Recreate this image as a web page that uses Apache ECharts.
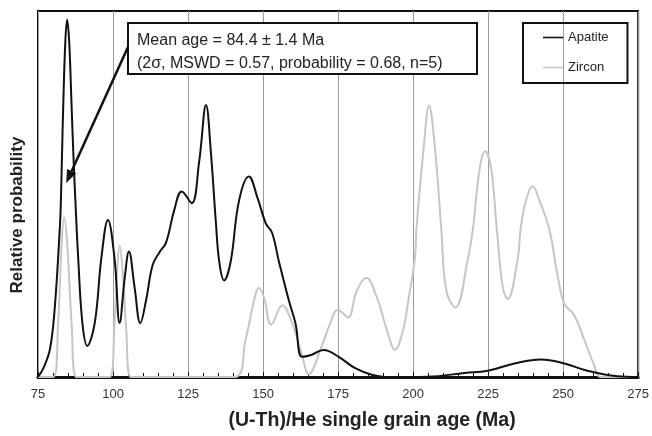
<!DOCTYPE html>
<html>
<head>
<meta charset="utf-8">
<script src="https://cdn.jsdelivr.net/npm/echarts@6/dist/echarts.min.js"></script>
<style>
  html, body { margin: 0; padding: 0; background: #fff; }
  #chart { width: 652px; height: 436px; }
</style>
</head>
<body>
<div id="chart"></div>
<script>
// age (Ma) / relative probability (0-100)
const apatiteAge = [75, 76.8, 79, 80.6, 82.3, 82.6, 83, 83.4, 84.1, 84.7, 85.4, 86.2, 86.8, 87.5, 88.4, 89.8, 91.4, 93.9, 96.1, 98.3, 100.5, 102.2, 103.9, 105.3, 107.2, 109.1, 111, 113.2, 115.5, 117.7, 120.4, 122.9, 126.2, 128.7, 131, 132.6, 134.3, 135.4, 137, 139.2, 142, 145.3, 148.1, 150.9, 153, 155.3, 158.6, 160.8, 163, 166, 170.2, 175.2, 180.7, 186.2, 190.6, 205, 217.2, 224.9, 233.8, 242.6, 250.4, 258.1, 268, 275];
const apatiteVal = [0, 2.4, 7.7, 19.1, 41.2, 47.4, 60.6, 73.8, 91.5, 97.6, 91.5, 73.8, 60.6, 47.4, 32.4, 14.7, 8.5, 14.7, 32.4, 42.9, 32.4, 14.8, 27.1, 34.3, 24.4, 14.7, 20.9, 30.6, 34.1, 36.8, 45.6, 50.7, 47.5, 58.8, 74.3, 61.5, 42, 31.5, 26.4, 31.5, 48.2, 54.8, 49.1, 42, 39.4, 31.5, 20.9, 14.7, 5.5, 6, 7.4, 5.5, 2.4, 0.6, 0, 0.1, 1.1, 1.7, 3.7, 4.8, 3.7, 1.7, 0.2, 0];

const zirconAge = [75, 80.1, 81.7, 82.9, 83.7, 84.7, 86.2, 87.8, 98.9, 100.5, 101.3, 102.2, 103.3, 104.4, 106, 140.5, 144.2, 147, 148.6, 150.3, 152.7, 156.4, 159.7, 163, 165.2, 169.6, 172.4, 174.9, 178.3, 181.2, 184.4, 187.9, 191.2, 194, 196.7, 198.4, 200.6, 201.1, 203.4, 205.3, 207.4, 209.4, 211.1, 214.1, 218.3, 219.9, 222.2, 224, 226, 227.9, 229.9, 231.5, 234.9, 235.8, 237.6, 239.8, 242.1, 245.4, 248.1, 250.4, 253.7, 257, 260.3, 262.5, 275];
const zirconVal = [0, 0, 14.7, 36.8, 43.6, 36.8, 14.7, 0, 0, 14.7, 28, 35.9, 28, 13, 0, 0, 10.3, 20.9, 24.4, 21.8, 14.3, 19.6, 14.7, 5.9, 0.8, 8.5, 14.7, 18.4, 16.3, 23.5, 27.1, 21.8, 13, 7.4, 13, 20.9, 32.4, 40.3, 61.5, 74.1, 61.5, 40.3, 23.5, 19, 32.4, 40.3, 57, 61.7, 57, 40.3, 24.4, 21.3, 32.4, 40.3, 48.2, 52.2, 48.2, 40.3, 28, 20, 16.9, 10.3, 3.3, 0, 0];

const xTicks = [75, 100, 125, 150, 175, 200, 225, 250, 275];
const meanAge = 84.4;
const noteLines = ["Mean age = 84.4 \u00b1 1.4 Ma", "(2\u03c3, MSWD = 0.57, probability = 0.68, n=5)"];

const pairs = (xs, ys) => xs.map((x, i) => [x, ys[i]]);
const font = "'Liberation Sans', Arial, sans-serif";
const lineIcon = "path://M0,0 L20,0 L20,1.6 L0,1.6 Z";

const chart = echarts.init(document.getElementById("chart"));

const option = {
  animation: false,
  grid: {
    left: 38, right: 11, top: 11, bottom: 47,
    show: true, borderColor: "#111", borderWidth: 2, backgroundColor: "#fff",
  },
  legend: {
    left: 523, top: 23, orient: "vertical",
    borderColor: "#111", borderWidth: 2,
    padding: [8, 19, 9, 20],
    itemWidth: 20, itemHeight: 14, itemGap: 17,
    textStyle: { fontFamily: font, fontSize: 13, color: "#222" },
    data: [
      { name: "Apatite", icon: lineIcon },
      { name: "Zircon", icon: lineIcon },
    ],
  },
  xAxis: {
    type: "value", min: xTicks[0], max: xTicks[xTicks.length - 1], interval: 25,
    name: "(U-Th)/He single grain age (Ma)",
    nameLocation: "middle", nameGap: 34,
    nameTextStyle: { fontFamily: font, fontSize: 19.5, fontWeight: "bold", color: "#222", padding: [0, 0, 0, 68] },
    axisLine: { lineStyle: { color: "#111", width: 3 } },
    axisTick: { show: true, inside: true, length: 5, lineStyle: { color: "#111" } },
    minorTick: { show: true, splitNumber: 5, length: 4, lineStyle: { color: "#111" } },
    axisLabel: { fontFamily: font, fontSize: 13, color: "#333", margin: 11 },
    splitLine: { show: true, lineStyle: { color: "#9a9a9a", width: 1 } },
  },
  yAxis: {
    type: "value", min: 0, max: 100,
    name: "Relative probability",
    nameLocation: "middle", nameGap: 12,
    nameTextStyle: { fontFamily: font, fontSize: 17, fontWeight: "bold", color: "#222", padding: [0, 42, 0, 0] },
    axisLine: { show: false }, axisTick: { show: false },
    axisLabel: { show: false }, splitLine: { show: false },
  },
  series: [
    {
      name: "Zircon", type: "line", data: pairs(zirconAge, zirconVal),
      smooth: 0.4, symbol: "none", z: 2,
      lineStyle: { color: "#c6c6c6", width: 2 }, itemStyle: { color: "#c6c6c6" },
    },
    {
      name: "Apatite", type: "line", data: pairs(apatiteAge, apatiteVal),
      smooth: 0.4, symbol: "none", z: 3,
      lineStyle: { color: "#111", width: 2 }, itemStyle: { color: "#111" },
    },
  ],
};

chart.setOption(option);

// annotation box + arrow pointing at the mean age on the apatite curve
const tip = chart.convertToPixel({ gridIndex: 0 }, [meanAge, 53]);
const tail = [128, 47];
const dx = tip[0] - tail[0], dy = tip[1] - tail[1];
const len = Math.sqrt(dx * dx + dy * dy);
const ux = dx / len, uy = dy / len;
const headLen = 13, headW = 5;
const base = [tip[0] - ux * headLen, tip[1] - uy * headLen];

chart.setOption({
  graphic: [
    {
      type: "line", z: 10,
      shape: { x1: tail[0], y1: tail[1], x2: base[0], y2: base[1] },
      style: { stroke: "#111", lineWidth: 2.5 },
    },
    {
      type: "polygon", z: 10,
      shape: { points: [tip, [base[0] - uy * headW, base[1] + ux * headW], [base[0] + uy * headW, base[1] - ux * headW]] },
      style: { fill: "#111" },
    },
    {
      type: "rect", z: 11,
      shape: { x: 128, y: 23, width: 349, height: 51 },
      style: { fill: "#fff", stroke: "#111", lineWidth: 2 },
    },
    {
      type: "text", z: 12, left: 137, top: 29,
      style: { text: noteLines.join("\n"), font: "16px " + font, fill: "#222", lineHeight: 23 },
    },
  ],
});

window.addEventListener("resize", () => chart.resize());
</script>
</body>
</html>
